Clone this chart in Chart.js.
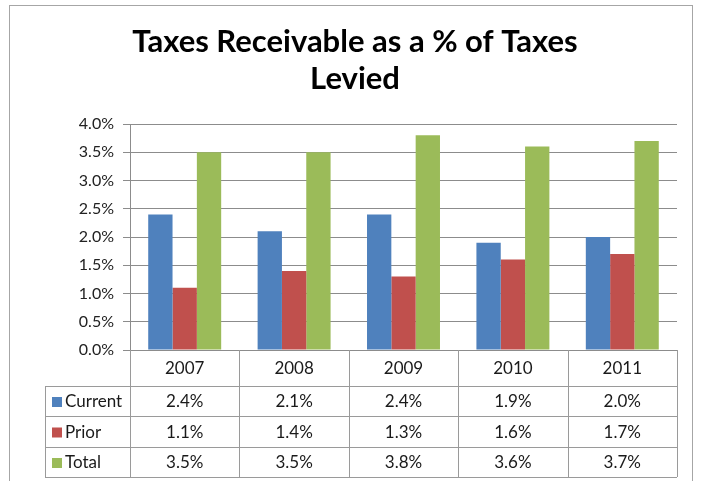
<!DOCTYPE html>
<html>
<head>
<meta charset="utf-8">
<script src="https://cdn.jsdelivr.net/npm/chart.js@4/dist/chart.umd.min.js"></script>
<style>
  html, body { margin: 0; padding: 0; background: #fff; }
  #wrap { width: 701px; height: 481px; }
</style>
</head>
<body>
<div id="wrap"><canvas id="tax-chart" width="701" height="481"></canvas></div>
<script>
var years = ['2007', '2008', '2009', '2010', '2011'];
var currentPct = [2.4, 2.1, 2.4, 1.9, 2.0];
var priorPct = [1.1, 1.4, 1.3, 1.6, 1.7];
var totalPct = [3.5, 3.5, 3.8, 3.6, 3.7];
var seriesNames = ['Current', 'Prior', 'Total'];
var seriesColors = ['#4F81BD', '#C0504D', '#9BBB59'];
var titleLines = ['Taxes Receivable as a % of Taxes', 'Levied'];

var FONT = 'Lato, "DejaVu Sans", sans-serif';

function pct(v) {
    return v.toFixed(1) + '%';
}

// frame round the whole chart + the title
var framePlugin = {
    id: 'frame',
    beforeDraw: function (chart) {
        var ctx = chart.ctx;
        ctx.save();
        ctx.fillStyle = '#fff';
        ctx.fillRect(0, 0, chart.width, chart.height);
        ctx.strokeStyle = '#a6a6a6';
        ctx.lineWidth = 1;
        ctx.strokeRect(9.5, 5.5, 683, 500);

        ctx.fillStyle = '#000';
        ctx.font = 'bold 31px ' + FONT;
        ctx.textAlign = 'center';
        ctx.textBaseline = 'middle';
        ctx.fillText(titleLines[0], 355, 42);
        ctx.fillText(titleLines[1], 355, 79);
        ctx.restore();
    }
};

// data table under the plot, columns taken from the x scale
var tablePlugin = {
    id: 'dataTable',
    afterDraw: function (chart) {
        var ctx = chart.ctx;
        var area = chart.chartArea;
        var xs = chart.scales.x;
        var n = years.length;
        var step = (area.right - area.left) / n;
        var top = area.bottom;
        var rowY = [top, top + 36, top + 66, top + 97, top + 127];
        var legendLeft = 45;

        ctx.save();
        ctx.strokeStyle = '#9a9a9a';
        ctx.lineWidth = 1;
        ctx.beginPath();
        for (var r = 1; r < rowY.length; r++) {
            ctx.moveTo(legendLeft, Math.round(rowY[r]) + 0.5);
            ctx.lineTo(area.right, Math.round(rowY[r]) + 0.5);
        }
        for (var c = 0; c <= n; c++) {
            var vx = Math.round(area.left + c * step) + 0.5;
            ctx.moveTo(vx, top);
            ctx.lineTo(vx, rowY[4]);
        }
        ctx.moveTo(legendLeft + 0.5, rowY[1]);
        ctx.lineTo(legendLeft + 0.5, rowY[4]);
        ctx.stroke();

        ctx.fillStyle = '#1a1a1a';
        ctx.font = '17px ' + FONT;
        ctx.textBaseline = 'middle';
        ctx.textAlign = 'center';
        years.forEach(function (y, i) {
            ctx.fillText(y, xs.getPixelForValue(i), (rowY[0] + rowY[1]) / 2 + 1);
        });

        chart.data.datasets.forEach(function (ds, s) {
            var cy = (rowY[s + 1] + rowY[s + 2]) / 2 + 1;
            ctx.fillStyle = seriesColors[s];
            ctx.fillRect(legendLeft + 7, cy - 5, 10, 10);
            ctx.fillStyle = '#1a1a1a';
            ctx.textAlign = 'left';
            ctx.fillText(seriesNames[s], legendLeft + 20, cy);
            ctx.textAlign = 'center';
            ds.data.forEach(function (v, i) {
                ctx.fillText(pct(v), xs.getPixelForValue(i), cy);
            });
        });
        ctx.restore();
    }
};

var ctx = document.getElementById('tax-chart').getContext('2d');
var taxChart = new Chart(ctx, {
    type: 'bar',
    data: {
        labels: years,
        datasets: [
            { label: seriesNames[0], data: currentPct, backgroundColor: seriesColors[0] },
            { label: seriesNames[1], data: priorPct, backgroundColor: seriesColors[1] },
            { label: seriesNames[2], data: totalPct, backgroundColor: seriesColors[2] }
        ]
    },
    options: {
        responsive: false,
        animation: false,
        layout: { padding: { left: 0, right: 24, top: 124, bottom: 131 } },
        datasets: {
            bar: { categoryPercentage: 0.667, barPercentage: 1, borderWidth: 0 }
        },
        plugins: {
            legend: { display: false },
            tooltip: { enabled: false },
            title: { display: false }
        },
        scales: {
            x: { display: false },
            y: {
                min: 0,
                max: 4,
                ticks: {
                    stepSize: 0.5,
                    padding: 9,
                    color: '#222',
                    font: { family: FONT, size: 16 },
                    callback: function (v) { return pct(v); }
                },
                grid: { color: '#8c8c8c', tickLength: 7 },
                border: { color: '#8c8c8c' },
                afterFit: function (scale) { scale.width = 130; }
            }
        }
    },
    plugins: [framePlugin, tablePlugin]
});
</script>
</body>
</html>
